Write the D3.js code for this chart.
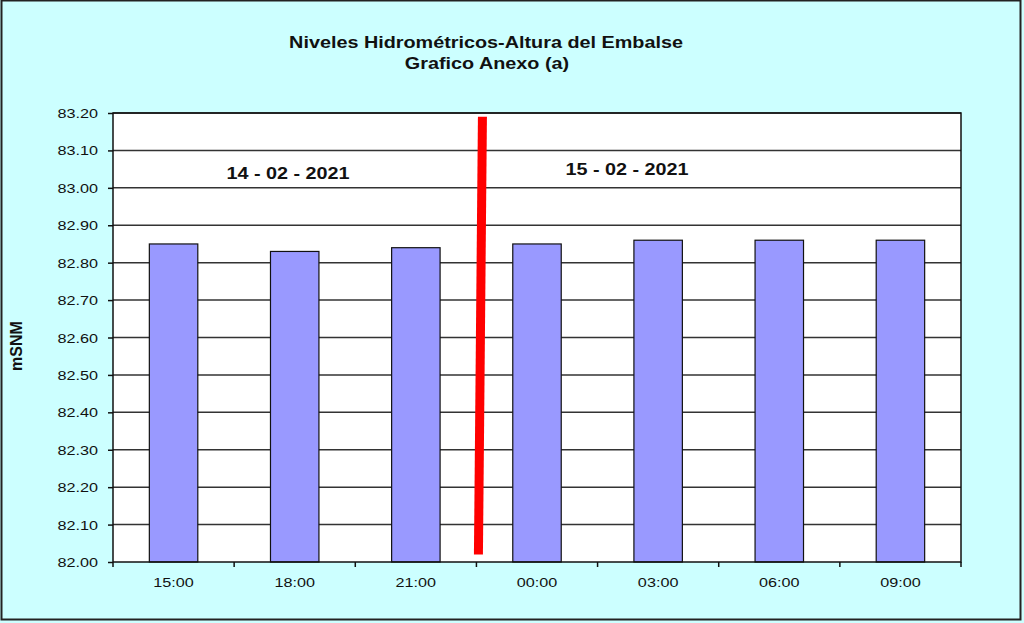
<!DOCTYPE html>
<html>
<head>
<meta charset="utf-8">
<script src="https://cdn.jsdelivr.net/npm/d3@7"></script>
<style>
  body { margin: 0; background: #fff; }
  svg { display: block; font-family: Arial, "Liberation Sans", sans-serif; }
</style>
</head>
<body>
<svg id="chart" width="1024" height="623"></svg>
<script>
/** Chart data */
var horas = ['15:00', '18:00', '21:00', '00:00', '03:00', '06:00', '09:00'];
var niveles = [82.85, 82.83, 82.84, 82.85, 82.86, 82.86, 82.86];
var yTicks = [82.00, 82.10, 82.20, 82.30, 82.40, 82.50, 82.60, 82.70, 82.80, 82.90, 83.00, 83.10, 83.20];
var fechas = ['14 - 02 - 2021', '15 - 02 - 2021'];
// red divider between the two days, value range of the line
var divisorRango = [82.02, 83.19];

var width = 1024,
    height = 623;

var margin = {top: 113, right: 63, bottom: 61, left: 113};

// the source image is a bit stretched sideways, so text is widened too
var stretch = 1.2;

var svg = d3.select('#chart');

// outer frame
svg.append('rect')
    .attr('x', 0).attr('y', 0)
    .attr('width', width).attr('height', height)
    .attr('fill', '#ccffff');
svg.append('rect')
    .attr('x', 1.5).attr('y', 0.5)
    .attr('width', 1019).attr('height', 619)
    .attr('fill', 'none')
    .attr('stroke', '#222')
    .attr('stroke-width', 2);

// scales
var x = d3.scaleBand()
    .domain(horas)
    .range([margin.left, width - margin.right])
    .paddingInner(0.6)
    .paddingOuter(0.3);

var y = d3.scaleLinear()
    .domain([82.0, 83.2])
    .range([height - margin.bottom, margin.top]);

var plotLeft = margin.left, plotRight = width - margin.right;

// plot area
svg.append('rect')
    .attr('x', plotLeft).attr('y', y(83.2))
    .attr('width', plotRight - plotLeft)
    .attr('height', y(82.0) - y(83.2))
    .attr('fill', '#fff');

// grid lines
svg.append('g')
    .selectAll('line')
    .data(yTicks.slice(1))
    .enter()
    .append('line')
    .attr('x1', plotLeft).attr('x2', plotRight)
    .attr('y1', function (d) { return y(d); })
    .attr('y2', function (d) { return y(d); })
    .attr('stroke', '#333')
    .attr('stroke-width', 1.5);

// bars
svg.append('g')
    .selectAll('rect')
    .data(niveles)
    .enter()
    .append('rect')
    .attr('x', function (d, i) { return x(horas[i]); })
    .attr('y', function (d) { return y(d); })
    .attr('width', x.bandwidth())
    .attr('height', function (d) { return y(82.0) - y(d); })
    .attr('fill', '#9999ff')
    .attr('stroke', '#111')
    .attr('stroke-width', 1.2);

// plot border
svg.append('rect')
    .attr('x', plotLeft).attr('y', y(83.2))
    .attr('width', plotRight - plotLeft)
    .attr('height', y(82.0) - y(83.2))
    .attr('fill', 'none')
    .attr('stroke', '#111')
    .attr('stroke-width', 1.5);

/** writes a widened text: the text is drawn at (0,0) and the group is moved and stretched */
function wideText(parent, px, py, anchor, size, bold, str) {
    return parent.append('text')
        .attr('transform', 'translate(' + px + ',' + py + ') scale(' + stretch + ',1)')
        .attr('text-anchor', anchor)
        .attr('font-size', size)
        .attr('font-weight', bold ? 'bold' : 'normal')
        .attr('fill', '#111')
        .text(str);
}

// y axis
var yAxis = d3.axisLeft(y)
    .tickValues(yTicks)
    .tickSize(5)
    .tickFormat(d3.format('.2f'));

var gy = svg.append('g')
    .attr('transform', 'translate(' + plotLeft + ',0)')
    .call(yAxis);
gy.select('.domain').remove();
gy.selectAll('line').attr('stroke', '#111').attr('stroke-width', 1.5);
gy.selectAll('text').remove();
yTicks.forEach(function (t) {
    wideText(svg, plotLeft - 15, y(t) + 5, 'end', 13.5, false, d3.format('.2f')(t));
});

// x axis: labels at band centres, ticks at band boundaries
var gx = svg.append('g')
    .attr('transform', 'translate(0,' + y(82.0) + ')');
var bordes = d3.range(horas.length + 1).map(function (i) { return plotLeft + i * (plotRight - plotLeft) / horas.length; });
gx.selectAll('line')
    .data(bordes)
    .enter()
    .append('line')
    .attr('x1', function (d) { return d; })
    .attr('x2', function (d) { return d; })
    .attr('y1', 0).attr('y2', 5)
    .attr('stroke', '#111')
    .attr('stroke-width', 1.5);
horas.forEach(function (h) {
    wideText(svg, x(h) + x.bandwidth() / 2, y(82.0) + 25, 'middle', 13.5, false, h);
});

// red divider between days (slightly tilted as in the source)
var xDiv = bordes[3];
svg.append('line')
    .attr('x1', xDiv + 6).attr('y1', y(divisorRango[1]))
    .attr('x2', xDiv + 2).attr('y2', y(divisorRango[0]))
    .attr('stroke', '#ff0000')
    .attr('stroke-width', 9);

// date labels
wideText(svg, 288, 179, 'middle', 16.5, true, fechas[0]);
wideText(svg, 627, 175, 'middle', 16.5, true, fechas[1]);

// titles
wideText(svg, 486, 48, 'middle', 16.5, true, 'Niveles Hidrométricos-Altura del Embalse');
wideText(svg, 487, 69, 'middle', 16.5, true, 'Grafico Anexo (a)');

// y axis label
svg.append('text')
    .attr('transform', 'translate(22,346) rotate(-90)')
    .attr('text-anchor', 'middle')
    .attr('font-size', 16)
    .attr('font-weight', 'bold')
    .attr('fill', '#111')
    .text('mSNM');
</script>
</body>
</html>
